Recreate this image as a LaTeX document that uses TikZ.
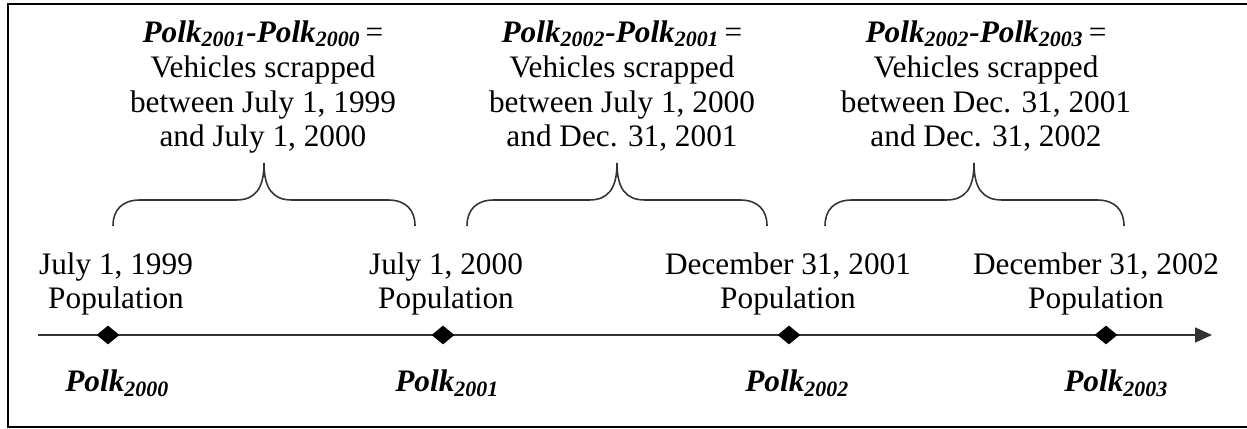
\documentclass[tikz,border=0pt]{standalone}
\usepackage{fontspec}
\setmainfont{Liberation Serif}
\usetikzlibrary{arrows.meta,shapes.geometric}
\definecolor{linegray}{rgb}{0.2,0.2,0.2}
\newcommand{\polk}[1]{{\bfseries\itshape Polk\textsubscript{#1}}}

\begin{document}
\begin{tikzpicture}[
  >={Triangle[length=3.4mm,width=3mm]},
  every node/.style={font=\fontsize{17.8}{19.9}\selectfont, inner sep=0pt},
  frame/.style={draw=black, line width=1.3pt},
  timeline/.style={->, draw=linegray, line width=0.9pt},
  marker/.style={diamond, fill=black, minimum width=4.6mm, minimum height=3.8mm, aspect=1.2},
  datelabel/.style={align=center, anchor=base},
  difflabel/.style={align=center, anchor=base},
  polklabel/.style={anchor=base west},
  scrapbrace/.style={draw=linegray, line width=0.9pt},
]
\useasboundingbox (0,0) rectangle (24.94,8.58);

% ---- outer frame (right side cut off) ----
\draw[frame] (25.5,8.50) -- (0.16,8.50) -- (0.16,0.04) -- (25.5,0.04);

% ---- time axis ----
\coordinate (tstart) at (0.76,1.88);
\coordinate (tend)   at (24.24,1.88);
\draw[timeline] (tstart) -- (tend);

% ---- population dates on the axis ----
\node[marker] (d2000) at (2.16, 1.88) {};
\node[marker] (d2001) at (8.86, 1.88) {};
\node[marker] (d2002) at (15.78, 1.88) {};
\node[marker] (d2003) at (22.12, 1.88) {};

% base = baseline of the last line
\node[datelabel] (date2000) at (2.32, 2.40)  {July 1, 1999\\Population};
\node[datelabel] (date2001) at (8.92, 2.40)  {July 1, 2000\\Population};
\node[datelabel] (date2002) at (15.76, 2.40) {December 31, 2001\\Population};
\node[datelabel] (date2003) at (21.92, 2.40) {December 31, 2002\\Population};

\node[polklabel] (polk2000) at (1.30, 0.74)  {\polk{2000}};
\node[polklabel] (polk2001) at (7.90, 0.74)  {\polk{2001}};
\node[polklabel] (polk2002) at (14.90, 0.74) {\polk{2002}};
\node[polklabel] (polk2003) at (21.28, 0.74) {\polk{2003}};

% ---- braces over each interval ----
\draw[scrapbrace] (2.26,4.06) .. controls (2.26,4.38) and (2.44,4.58) .. (2.80,4.58) -- (4.72,4.58)
  .. controls (5.10,4.58) and (5.28,4.80) .. (5.28,5.32)
  .. controls (5.28,4.80) and (5.46,4.58) .. (5.84,4.58) -- (7.76,4.58)
  .. controls (8.12,4.58) and (8.30,4.38) .. (8.30,4.06);
\draw[scrapbrace] (9.34,4.06) .. controls (9.34,4.38) and (9.52,4.58) .. (9.88,4.58) -- (11.78,4.58)
  .. controls (12.16,4.58) and (12.34,4.80) .. (12.34,5.32)
  .. controls (12.34,4.80) and (12.52,4.58) .. (12.90,4.58) -- (14.80,4.58)
  .. controls (15.16,4.58) and (15.34,4.38) .. (15.34,4.06);
\draw[scrapbrace] (16.50,4.06) .. controls (16.50,4.38) and (16.68,4.58) .. (17.04,4.58) -- (18.92,4.58)
  .. controls (19.30,4.58) and (19.48,4.80) .. (19.48,5.32)
  .. controls (19.48,4.80) and (19.66,4.58) .. (20.04,4.58) -- (21.94,4.58)
  .. controls (22.30,4.58) and (22.48,4.38) .. (22.48,4.06);

% ---- scrapped vehicles per interval ----
\node[difflabel] (diff1) at (5.26, 5.64)
  {{\bfseries\itshape Polk\textsubscript{2001}-Polk\textsubscript{2000}}\,=\\Vehicles scrapped\\between July 1, 1999\\and July 1, 2000};
\node[difflabel] (diff2) at (12.44, 5.64)
  {{\bfseries\itshape Polk\textsubscript{2002}-Polk\textsubscript{2001}}\,=\\Vehicles scrapped\\between July 1, 2000\\and Dec. 31, 2001};
\node[difflabel] (diff3) at (19.72, 5.64)
  {{\bfseries\itshape Polk\textsubscript{2002}-Polk\textsubscript{2003}}\,=\\Vehicles scrapped\\between Dec. 31, 2001\\and Dec. 31, 2002};

\end{tikzpicture}
\end{document}
